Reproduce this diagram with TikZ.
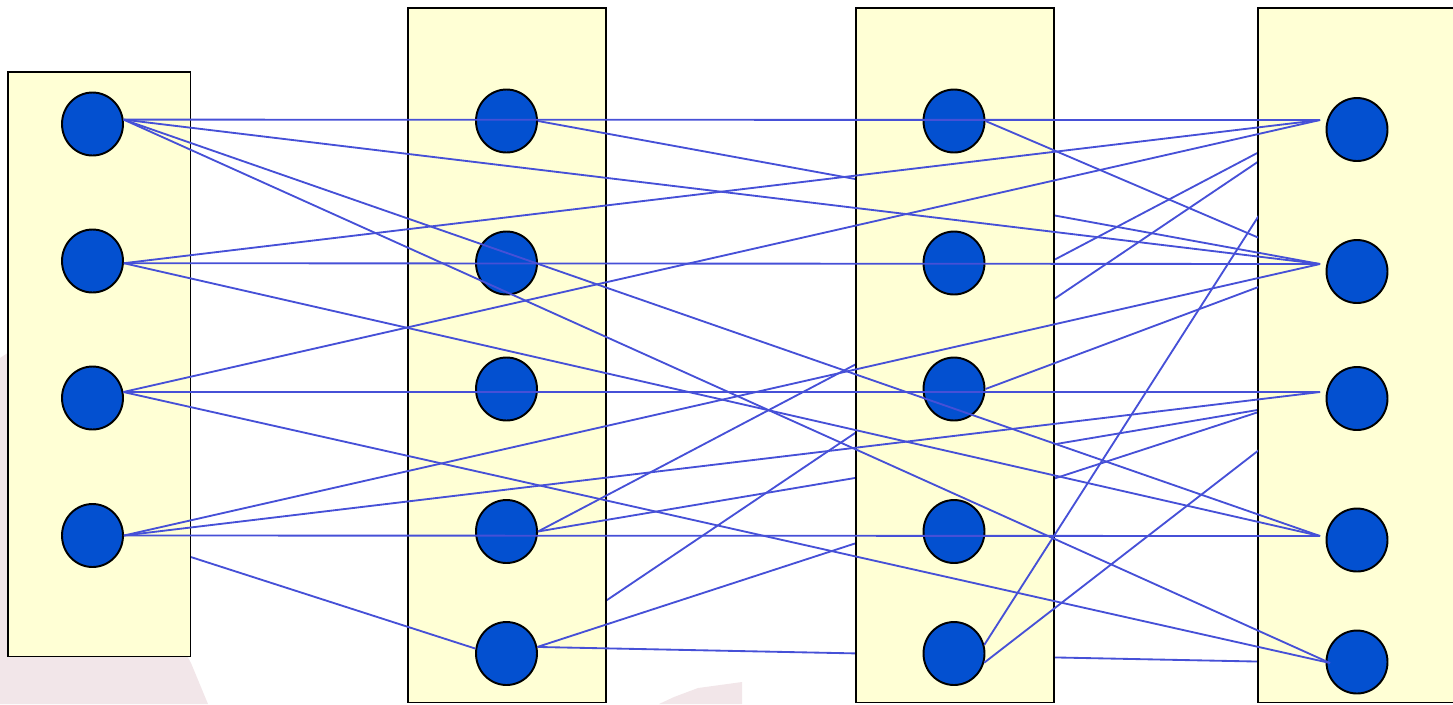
\documentclass[tikz,border=0pt]{standalone}
\usepackage{xcolor}
\usepackage{tikz}
\usetikzlibrary{shapes.geometric}

\definecolor{boxyellow}{RGB}{255,255,213}
\definecolor{unitblue}{RGB}{3,80,208}
\definecolor{wireblue}{RGB}{70,80,215}
\definecolor{markpink}{RGB}{242,230,233}

\pgfdeclarelayer{mark}
\pgfdeclarelayer{deep}
\pgfdeclarelayer{colB}
\pgfdeclarelayer{mid}
\pgfdeclarelayer{colD}
\pgfdeclarelayer{high}
\pgfdeclarelayer{colAC}
\pgfsetlayers{mark,deep,colB,mid,colD,high,colAC,main}

\begin{document}
\begin{tikzpicture}[x=0.02cm,y=-0.02cm]
				\tikzstyle{column}=[draw, fill=boxyellow, line width=1.1pt]
				\tikzstyle{unit}=[ellipse, draw, fill=unitblue, line width=1.1pt, minimum width=1.22cm, minimum height=1.26cm, inner sep=0pt]
				\tikzset{wire/.style = {wireblue, line width=1.05pt}}
				
				\useasboundingbox (0,0) rectangle (1453,704);
				
				% faint background marks
				\begin{pgfonlayer}{mark}
				\fill[markpink] (0,358) -- (20,345) -- (191,663) -- (208,704) -- (0,704) -- cycle;
				\fill[markpink] (659,704) -- (674,697) -- (698,688) -- (742,682) -- (742,704) -- cycle;
				\end{pgfonlayer}
				
				% column A
				\begin{pgfonlayer}{colAC}
				\draw[column] (8,72) rectangle (190.5,656.5);
				\node[unit](a1) at (92.5,124) {};
				\node[unit](a2) at (92.5,261) {};
				\node[unit](a3) at (92.5,398) {};
				\node[unit](a4) at (92.5,535.5) {};
				\end{pgfonlayer}
				
				% column B
				\begin{pgfonlayer}{colB}
				\draw[column] (408,8) rectangle (606,702.5);
				\node[unit](b1) at (506.5,121) {};
				\node[unit](b2) at (506.5,263) {};
				\node[unit](b3) at (506.5,389) {};
				\node[unit](b4) at (506.5,531.5) {};
				\node[unit](b5) at (506.5,653.5) {};
				\end{pgfonlayer}
				
				% column C
				\begin{pgfonlayer}{colAC}
				\draw[column] (856,8) rectangle (1054,702.5);
				\node[unit](c1) at (954,121) {};
				\node[unit](c2) at (954,263) {};
				\node[unit](c3) at (954,389) {};
				\node[unit](c4) at (954,531.5) {};
				\node[unit](c5) at (954,653.5) {};
				\end{pgfonlayer}
				
				% column D
				\begin{pgfonlayer}{colD}
				\draw[column] (1258,8) rectangle (1462,702.5);
				\node[unit](d1) at (1357,129.5) {};
				\node[unit](d2) at (1357,271.5) {};
				\node[unit](d3) at (1357,398.5) {};
				\node[unit](d4) at (1357,540) {};
				\node[unit](d5) at (1357,662) {};
				\end{pgfonlayer}
				\coordinate (d1in) at (1320,120);
				\coordinate (d2in) at (1320,264);
				\coordinate (d3in) at (1320,392);
				\coordinate (d4in) at (1320,536);
				\coordinate (d5in) at (1330,663);
				
				% wires hidden behind the columns
				\begin{pgfonlayer}{deep}
				\draw[wire](b5.12) to (d1in);
				\end{pgfonlayer}
				\begin{pgfonlayer}{mid}
				\draw[wire](a4.east) to (b5.171);
				\draw[wire](b4.east) to (d1in);
				\draw[wire](b4.east) to (d3.west);
				\draw[wire](b5.12)   to (d3in);
				\draw[wire](b5.12)   to (d5in);
				\end{pgfonlayer}
				\begin{pgfonlayer}{high}
				\draw[wire](b1.east) to (d2in);
				\end{pgfonlayer}
				\begin{scope}
				\clip (856,0) rectangle (1258,704);
				\draw[wire](c1.east) to (d2in);
				\draw[wire](c3.east) to (d2in);
				\draw[wire](c5.16)   to (d1in);
				\draw[wire](c5.343)  to (d3.west);
				\end{scope}
				
				% wires from A1, A2
				\draw[wire](a1.8)   to (d1in);
				\draw[wire](a1.8)   to (d2in);
				\draw[wire](a1.8)   to (d4in);
				\draw[wire](a1.8)   to (d5in);
				\draw[wire](a2.356) to (d1in);
				\draw[wire](a2.356) to (d2in);
				\draw[wire](a2.356) to (d4in);
				
				% wires from A3, A4
				\draw[wire](a3.11)   to (d1in);
				\draw[wire](a3.11)   to (d3in);
				\draw[wire](a3.11)   to (d5in);
				\draw[wire](a4.east) to (d2in);
				\draw[wire](a4.east) to (d3in);
				\draw[wire](a4.east) to (d4in);
\end{tikzpicture}
\end{document}
